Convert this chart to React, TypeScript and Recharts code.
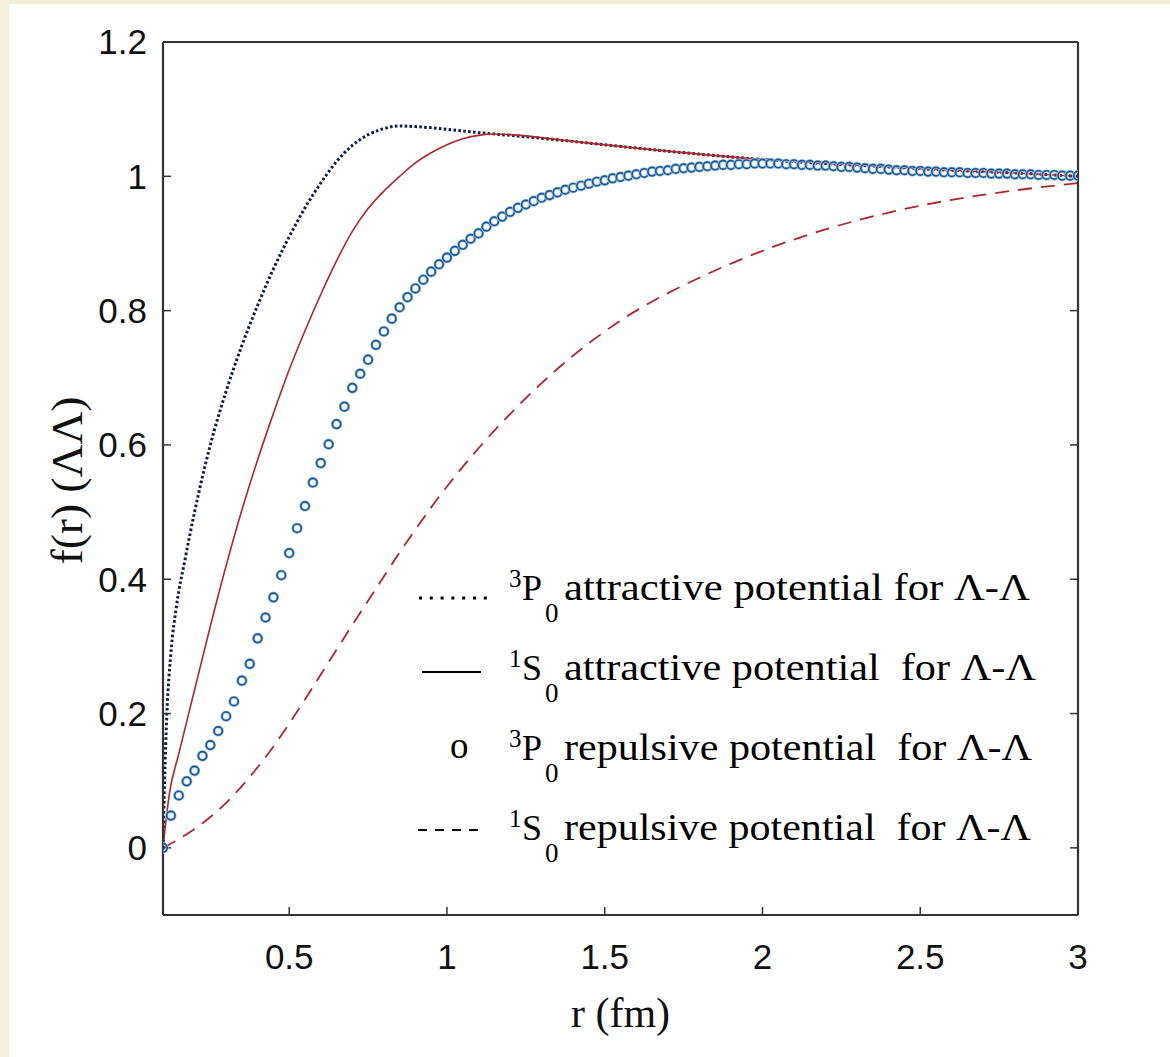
import React from 'react';
import { ComposedChart, Line, Scatter, XAxis, YAxis, Label } from 'recharts';

// 3P0 attractive potential (dotted)
const rP3Attr = [0.1, 0.105, 0.112, 0.125, 0.143, 0.17, 0.2, 0.25, 0.3, 0.35, 0.4, 0.45, 0.5, 0.55, 0.6, 0.65, 0.7, 0.75, 0.8, 0.85, 0.9, 1.0, 1.1, 1.2, 1.4, 1.6, 1.8, 2.0, 2.2, 2.4, 2.6, 2.8, 3.0];
const fP3Attr = [0, 0.1, 0.196, 0.29, 0.361, 0.43, 0.5, 0.6, 0.68, 0.748, 0.808, 0.862, 0.91, 0.953, 0.99, 1.022, 1.046, 1.062, 1.071, 1.075, 1.074, 1.07, 1.065, 1.061, 1.052, 1.042, 1.033, 1.025, 1.019, 1.014, 1.009, 1.005, 1.0];

// 1S0 attractive potential (solid)
const rS1Attr = [0.1, 0.12, 0.15, 0.2, 0.25, 0.3, 0.35, 0.4, 0.45, 0.5, 0.55, 0.6, 0.65, 0.7, 0.75, 0.8, 0.85, 0.9, 0.95, 1.0, 1.05, 1.1, 1.15, 1.2, 1.4, 1.6, 1.8, 2.0, 2.2, 2.4, 2.6, 2.8, 3.0];
const fS1Attr = [0, 0.08, 0.14, 0.235, 0.33, 0.42, 0.503, 0.578, 0.647, 0.712, 0.77, 0.824, 0.874, 0.918, 0.952, 0.978, 1.0, 1.02, 1.035, 1.047, 1.056, 1.061, 1.063, 1.062, 1.052, 1.042, 1.033, 1.025, 1.019, 1.014, 1.009, 1.005, 1.0];

// 1S0 repulsive potential (dashed)
const rS1Rep = [0.1, 0.15, 0.2, 0.25, 0.3, 0.35, 0.4, 0.45, 0.5, 0.55, 0.6, 0.65, 0.7, 0.75, 0.8, 0.85, 0.9, 0.95, 1.0, 1.1, 1.2, 1.3, 1.4, 1.5, 1.6, 1.7, 1.8, 1.9, 2.0, 2.2, 2.4, 2.6, 2.8, 3.0];
const fS1Rep = [0, 0.013, 0.028, 0.046, 0.067, 0.092, 0.12, 0.151, 0.185, 0.221, 0.258, 0.295, 0.332, 0.368, 0.404, 0.44, 0.474, 0.507, 0.538, 0.595, 0.646, 0.692, 0.733, 0.769, 0.8, 0.826, 0.849, 0.87, 0.889, 0.921, 0.946, 0.965, 0.979, 0.99];

// 3P0 repulsive potential (circles)
const rP3Rep = [
  0.1, 0.125, 0.15, 0.175, 0.2, 0.225, 0.25, 0.275, 0.3, 0.325,
  0.35, 0.375, 0.4, 0.425, 0.45, 0.475, 0.5, 0.525, 0.55, 0.575,
  0.6, 0.625, 0.65, 0.675, 0.7, 0.725, 0.75, 0.775, 0.8, 0.825,
  0.85, 0.875, 0.9, 0.925, 0.95, 0.975, 1.0, 1.025, 1.05, 1.075,
  1.1, 1.125, 1.15, 1.175, 1.2, 1.225, 1.25, 1.275, 1.3, 1.325,
  1.35, 1.375, 1.4, 1.425, 1.45, 1.475, 1.5, 1.525, 1.55, 1.575,
  1.6, 1.625, 1.65, 1.675, 1.7, 1.725, 1.75, 1.775, 1.8, 1.825,
  1.85, 1.875, 1.9, 1.925, 1.95, 1.975, 2.0, 2.025, 2.05, 2.075,
  2.1, 2.125, 2.15, 2.175, 2.2, 2.225, 2.25, 2.275, 2.3, 2.325,
  2.35, 2.375, 2.4, 2.425, 2.45, 2.475, 2.5, 2.525, 2.55, 2.575,
  2.6, 2.625, 2.65, 2.675, 2.7, 2.725, 2.75, 2.775, 2.8, 2.825,
  2.85, 2.875, 2.9, 2.925, 2.95, 2.975, 3.0,
];
const fP3Rep = [
  0.0, 0.048, 0.078, 0.099, 0.115, 0.137, 0.153, 0.174, 0.196, 0.218,
  0.249, 0.274, 0.312, 0.343, 0.373, 0.406, 0.439, 0.476, 0.509, 0.544,
  0.573, 0.601, 0.631, 0.657, 0.685, 0.706, 0.727, 0.749, 0.769, 0.788,
  0.805, 0.82, 0.833, 0.846, 0.858, 0.869, 0.879, 0.889, 0.898, 0.907,
  0.915, 0.925, 0.933, 0.94, 0.947, 0.953, 0.958, 0.963, 0.968, 0.972,
  0.976, 0.98, 0.983, 0.986, 0.989, 0.992, 0.994, 0.997, 0.999, 1.001,
  1.003, 1.005, 1.007, 1.008, 1.009, 1.011, 1.012, 1.013, 1.014, 1.015,
  1.016, 1.017, 1.017, 1.018, 1.018, 1.019, 1.019, 1.019, 1.019, 1.018,
  1.018, 1.017, 1.017, 1.016, 1.016, 1.015, 1.014, 1.014, 1.013, 1.012,
  1.011, 1.011, 1.01, 1.009, 1.009, 1.008, 1.008, 1.007, 1.007, 1.006,
  1.006, 1.006, 1.005, 1.005, 1.005, 1.004, 1.004, 1.004, 1.003, 1.003,
  1.003, 1.002, 1.002, 1.002, 1.001, 1.001, 1.001,
];

const xTicks = [0.5, 1, 1.5, 2, 2.5, 3];
const yTicks = [0, 0.2, 0.4, 0.6, 0.8, 1, 1.2];

const legendRows = [
  { sup: '3', term: 'P', text: 'attractive potential for Λ-Λ', len: 466 },
  { sup: '1', term: 'S', text: 'attractive potential  for Λ-Λ', len: 472 },
  { sup: '3', term: 'P', text: 'repulsive potential  for Λ-Λ', len: 468 },
  { sup: '1', term: 'S', text: 'repulsive potential  for Λ-Λ', len: 467 },
];

const zip = (rs: number[], fs: number[]) => rs.map((r, i) => ({ r, f: fs[i] }));

const SANS = '"Liberation Sans", Arial, sans-serif';
const SERIF = '"Liberation Serif", "Times New Roman", serif';
const AXIS = '#333';
const NAVY = '#0f1d4d';
const RED = '#b0262b';
const BLUE = '#1c5894';

function Ring(props: any) {
  const { cx, cy } = props;
  if (cx == null || cy == null) return null;
  return (
    <g>
      <circle cx={cx} cy={cy} r={4.2} fill="none" stroke="#a9cbea" strokeWidth={3.2} />
      <circle cx={cx} cy={cy} r={4.2} fill="none" stroke={BLUE} strokeWidth={1.7} />
    </g>
  );
}

const noTick = () => <g />;

function Legend() {
  const rowY = [600, 680, 760, 840];
  return (
    <svg
      width={1170}
      height={1057}
      style={{ position: 'absolute', left: 0, top: 0, pointerEvents: 'none' }}
    >
      <line x1={419} x2={487} y1={598} y2={598} stroke="#000" strokeWidth={3} strokeDasharray="3 7.8" />
      <line x1={422} x2={481} y1={672} y2={672} stroke="#000" strokeWidth={2} />
      <text x={450} y={758} fontFamily={SERIF} fontSize={37} fill="#000">o</text>
      <line x1={418} x2={484} y1={830} y2={830} stroke="#000" strokeWidth={2} strokeDasharray="9 8" />
      {legendRows.map((row, i) => {
        const y = rowY[i];
        return (
          <g key={i} fontFamily={SERIF} fill="#000">
            <text x={509} y={y - 13} fontSize={25}>{row.sup}</text>
            <text x={522} y={y} fontSize={36}>{row.term}</text>
            <text x={545} y={y + 22} fontSize={27}>0</text>
            <text
              x={564}
              y={y}
              fontSize={37}
              textLength={row.len}
              lengthAdjust="spacingAndGlyphs"
              style={{ whiteSpace: 'pre' }}
            >
              {row.text}
            </text>
          </g>
        );
      })}
    </svg>
  );
}

export default function App() {
  const p3Attr = zip(rP3Attr, fP3Attr);
  const s1Attr = zip(rS1Attr, fS1Attr);
  const s1Rep = zip(rS1Rep, fS1Rep);
  const p3Rep = zip(rP3Rep, fP3Rep);

  return (
    <div
      style={{
        position: 'absolute',
        left: 0,
        top: 0,
        width: 1170,
        height: 1057,
        background: '#f2efdb',
        overflow: 'hidden',
      }}
    >
      <div style={{ position: 'absolute', left: 9, top: 4, right: 0, bottom: 0, background: '#fff' }} />
      <div style={{ position: 'absolute', left: 0, top: 0 }}>
        <ComposedChart width={1170} height={1057} margin={{ top: 41, right: 91, bottom: 0, left: 0 }}>
          <XAxis
            xAxisId="x"
            dataKey="r"
            type="number"
            domain={[0.1, 3]}
            ticks={xTicks}
            interval={0}
            allowDataOverflow
            height={142}
            axisLine={{ stroke: AXIS, strokeWidth: 2.2 }}
            tickLine={{ stroke: AXIS, strokeWidth: 1.5 }}
            tickSize={-8}
            tickMargin={37}
            tick={{ fontSize: 35, fill: '#111', fontFamily: SANS }}
          >
            <Label
              content={({ viewBox }: any) => (
                <text
                  x={viewBox.x + viewBox.width / 2}
                  y={1027}
                  textAnchor="middle"
                  fontFamily={SERIF}
                  fontSize={42}
                  fill="#111"
                >
                  r (fm)
                </text>
              )}
            />
          </XAxis>
          <XAxis
            xAxisId="top"
            orientation="top"
            type="number"
            domain={[0.1, 3]}
            ticks={xTicks}
            interval={0}
            allowDataOverflow
            height={1}
            axisLine={{ stroke: AXIS, strokeWidth: 2.2 }}
            tickLine={{ stroke: AXIS, strokeWidth: 1.5 }}
            tickSize={-8}
            tick={noTick}
          />
          <YAxis
            yAxisId="y"
            type="number"
            domain={[-0.1, 1.2]}
            ticks={yTicks}
            interval={0}
            allowDataOverflow
            width={163}
            axisLine={{ stroke: AXIS, strokeWidth: 2.2 }}
            tickLine={{ stroke: AXIS, strokeWidth: 1.5 }}
            tickSize={-8}
            tickMargin={24}
            tick={{ fontSize: 35, fill: '#111', fontFamily: SANS }}
          >
            <Label
              content={({ viewBox }: any) => {
                const cx = viewBox.x + 67;
                const cy = viewBox.y + viewBox.height / 2 + 2;
                return (
                  <text
                    x={cx}
                    y={cy}
                    transform={`rotate(-90, ${cx}, ${cy})`}
                    textAnchor="middle"
                    dominantBaseline="central"
                    fontFamily={SERIF}
                    fontSize={44}
                    textLength={168}
                    lengthAdjust="spacingAndGlyphs"
                    fill="#111"
                  >
                    f(r) (ΛΛ)
                  </text>
                );
              }}
            />
          </YAxis>
          <YAxis
            yAxisId="right"
            orientation="right"
            type="number"
            domain={[-0.1, 1.2]}
            ticks={yTicks}
            interval={0}
            allowDataOverflow
            width={1}
            axisLine={{ stroke: AXIS, strokeWidth: 2.2 }}
            tickLine={{ stroke: AXIS, strokeWidth: 1.5 }}
            tickSize={-8}
            tick={noTick}
          />

          <Line
            xAxisId="x"
            yAxisId="y"
            data={p3Attr}
            dataKey="f"
            type="monotone"
            stroke={NAVY}
            strokeWidth={3}
            strokeDasharray="2.6 2.3"
            dot={false}
            activeDot={false}
            isAnimationActive={false}
          />
          <Line
            xAxisId="x"
            yAxisId="y"
            data={s1Attr}
            dataKey="f"
            type="monotone"
            stroke={RED}
            strokeWidth={1.6}
            dot={false}
            activeDot={false}
            isAnimationActive={false}
          />
          <Line
            xAxisId="x"
            yAxisId="y"
            data={s1Rep}
            dataKey="f"
            type="monotone"
            stroke={RED}
            strokeWidth={1.8}
            strokeDasharray="14 9"
            dot={false}
            activeDot={false}
            isAnimationActive={false}
          />
          <Scatter
            xAxisId="x"
            yAxisId="y"
            data={p3Rep}
            dataKey="f"
            shape={<Ring />}
            isAnimationActive={false}
          />
        </ComposedChart>
      </div>
      <Legend />
    </div>
  );
}
